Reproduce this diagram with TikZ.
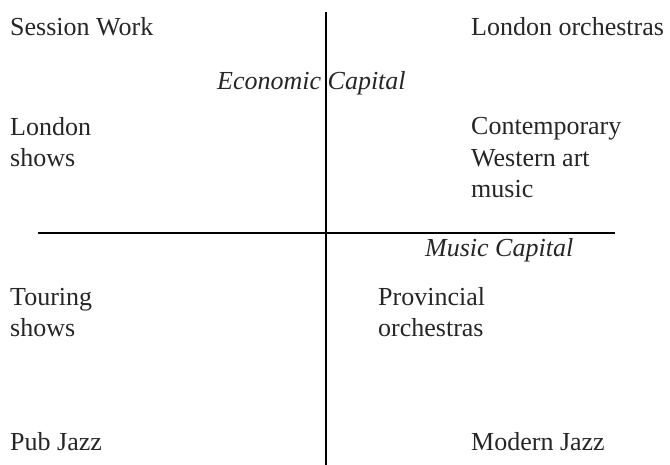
\documentclass[tikz,border=0pt]{standalone}
\usepackage{fontspec}
\setmainfont{Liberation Serif}
\begin{document}
\begin{tikzpicture}[x=1pt,y=-1pt,
  lbl/.style={anchor=base west,inner sep=0pt,align=left,font=\fontsize{26}{31.5}\selectfont,text=black!85},
  ilbl/.style={lbl,font=\fontsize{26}{31.5}\selectfont\itshape},
  axis/.style={line width=2pt,black}]
\useasboundingbox (0,0) rectangle (670,465);
\coordinate (vt) at (326,12);
\coordinate (vb) at (326,465);
\coordinate (hl) at (38,233);
\coordinate (hr) at (615,233);
\draw[axis] (vt) -- (vb);
\draw[axis] (hl) -- (hr);
\node[lbl] (sw) at (10,36) {Session Work};
\node[lbl] (lo) at (471,36) {London orchestras};
\node[ilbl] (ec) at (217,90) {Economic Capital};
\node[lbl] (ls) at (10,167) {London\\shows};
\node[lbl] (cw) at (471,198) {Contemporary\\Western art\\music};
\node[ilbl] (mc) at (425,257) {Music Capital};
\node[lbl] (ts) at (10,337) {Touring\\shows};
\node[lbl] (po) at (378,337) {Provincial\\orchestras};
\node[lbl] (pj) at (10,450) {Pub Jazz};
\node[lbl] (mj) at (471,450) {Modern Jazz};
\end{tikzpicture}
\end{document}
